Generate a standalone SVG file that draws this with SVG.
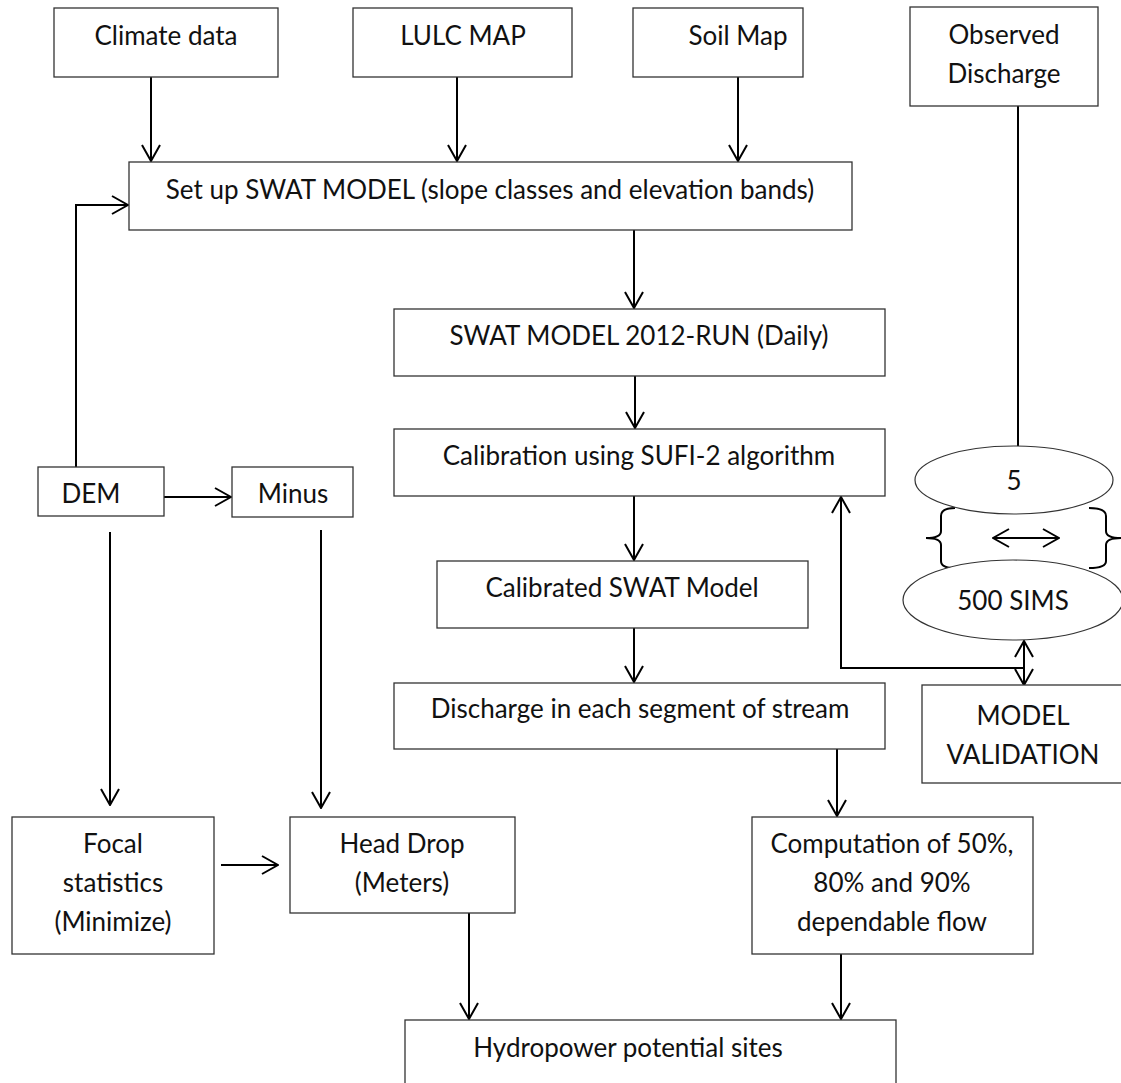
<svg xmlns="http://www.w3.org/2000/svg" width="1121" height="1083" viewBox="0 0 1121 1083">
<style>
.box{fill:#fff;stroke:#333;stroke-width:1.3}
.ell{fill:#fff;stroke:#333;stroke-width:1.2}
.t{font-family:Lato,"Open Sans","Liberation Sans",sans-serif;font-size:26px;fill:#111;text-anchor:middle}
.c{fill:none;stroke:#000;stroke-width:2}
.a{fill:none;stroke:#000;stroke-width:2;marker-end:url(#ah)}
.d{fill:none;stroke:#000;stroke-width:2;marker-start:url(#ah);marker-end:url(#ah)}
</style>
<defs>
<marker id="ah" viewBox="0 0 18 20" refX="17" refY="10" markerWidth="18" markerHeight="20" markerUnits="userSpaceOnUse" orient="auto-start-reverse">
<path d="M1,1 L17,10 L1,19" fill="none" stroke="#000" stroke-width="2"/>
</marker>
</defs>
<rect width="1121" height="1083" fill="#fff"/>
<g id="connectors">
<path class="a" d="M151,77 L151,161"/>
<path class="a" d="M457,77 L457,161"/>
<path class="a" d="M738,77 L738,161"/>
<path class="c" d="M1018,106 L1018,446"/>
<path class="a" d="M634,230 L634,308"/>
<path class="a" d="M635,376 L635,428"/>
<path class="a" d="M634,496 L634,560"/>
<path class="a" d="M634,628 L634,682"/>
<path class="a" d="M76,467 L76,205 L128,205"/>
<path class="a" d="M164,497 L231,497"/>
<path class="a" d="M110,532 L110,805"/>
<path class="a" d="M321,530 L321,808"/>
<path class="a" d="M221,865 L278,865"/>
<path class="a" d="M469,913 L469,1019"/>
<path class="a" d="M837,749 L837,816"/>
<path class="a" d="M841,954 L841,1019"/>
<path class="a" d="M1024,668 L841,668 L841,497"/>
<path class="d" d="M1024,641 L1024,685"/>
<path class="d" d="M993,538 L1059,538"/>
<path class="c" d="M955,508 Q941,508 941,516 L941,531 Q941,538 926,538 Q941,538 941,545 L941,561 Q941,568 955,568" stroke-width="1.5"/>
<path class="c" d="M1089,508 Q1106,508 1106,516 L1106,531 Q1106,538 1121,538 Q1106,538 1106,545 L1106,561 Q1106,568 1089,568" stroke-width="1.5"/>
</g>
<g id="climate"><rect class="box" x="54" y="8" width="224" height="69"/><text class="t" x="166" y="45">Climate data</text></g>
<g id="lulc"><rect class="box" x="353" y="8" width="219" height="69"/><text class="t" x="463" y="45">LULC MAP</text></g>
<g id="soil"><rect class="box" x="633" y="8" width="170" height="69"/><text class="t" x="738" y="45">Soil Map</text></g>
<g id="observed"><rect class="box" x="910" y="7" width="188" height="99"/><text class="t" x="1004" y="44">Observed</text><text class="t" x="1004" y="83">Discharge</text></g>
<g id="setup"><rect class="box" x="129" y="162" width="723" height="68"/><text class="t" x="490" y="199">Set up SWAT MODEL (slope classes and elevation bands)</text></g>
<g id="run"><rect class="box" x="394" y="309" width="491" height="67"/><text class="t" x="639" y="345">SWAT MODEL 2012-RUN (Daily)</text></g>
<g id="calibration"><rect class="box" x="394" y="429" width="491" height="67"/><text class="t" x="639" y="465">Calibration using SUFI-2 algorithm</text></g>
<g id="calibrated"><rect class="box" x="437" y="561" width="371" height="67"/><text class="t" x="622" y="597">Calibrated SWAT Model</text></g>
<g id="discharge"><rect class="box" x="394" y="683" width="491" height="66"/><text class="t" x="640" y="718">Discharge in each segment of stream</text></g>
<g id="dem"><rect class="box" x="38" y="467" width="126" height="49"/><text class="t" x="91" y="503">DEM</text></g>
<g id="minus"><rect class="box" x="232" y="467" width="121" height="50"/><text class="t" x="293" y="503">Minus</text></g>
<g id="sims5"><ellipse class="ell" cx="1014" cy="480" rx="99" ry="34"/><text class="t" x="1014" y="490">5</text></g>
<g id="sims500"><ellipse class="ell" cx="1013" cy="600" rx="110" ry="40"/><text class="t" x="1013" y="610">500 SIMS</text></g>
<g id="validation"><rect class="box" x="922" y="685" width="202" height="98"/><text class="t" x="1023" y="725">MODEL</text><text class="t" x="1023" y="764">VALIDATION</text></g>
<g id="focal"><rect class="box" x="12" y="817" width="202" height="137"/><text class="t" x="113" y="853">Focal</text><text class="t" x="113" y="892">statistics</text><text class="t" x="113" y="931">(Minimize)</text></g>
<g id="headdrop"><rect class="box" x="290" y="817" width="225" height="96"/><text class="t" x="402" y="853">Head Drop</text><text class="t" x="402" y="892">(Meters)</text></g>
<g id="computation"><rect class="box" x="752" y="817" width="281" height="137"/><text class="t" x="892" y="853">Computation of 50%,</text><text class="t" x="892" y="892">80% and 90%</text><text class="t" x="892" y="931">dependable flow</text></g>
<g id="hydropower"><rect class="box" x="405" y="1020" width="491" height="80"/><text class="t" x="628" y="1057">Hydropower potential sites</text></g>
</svg>
